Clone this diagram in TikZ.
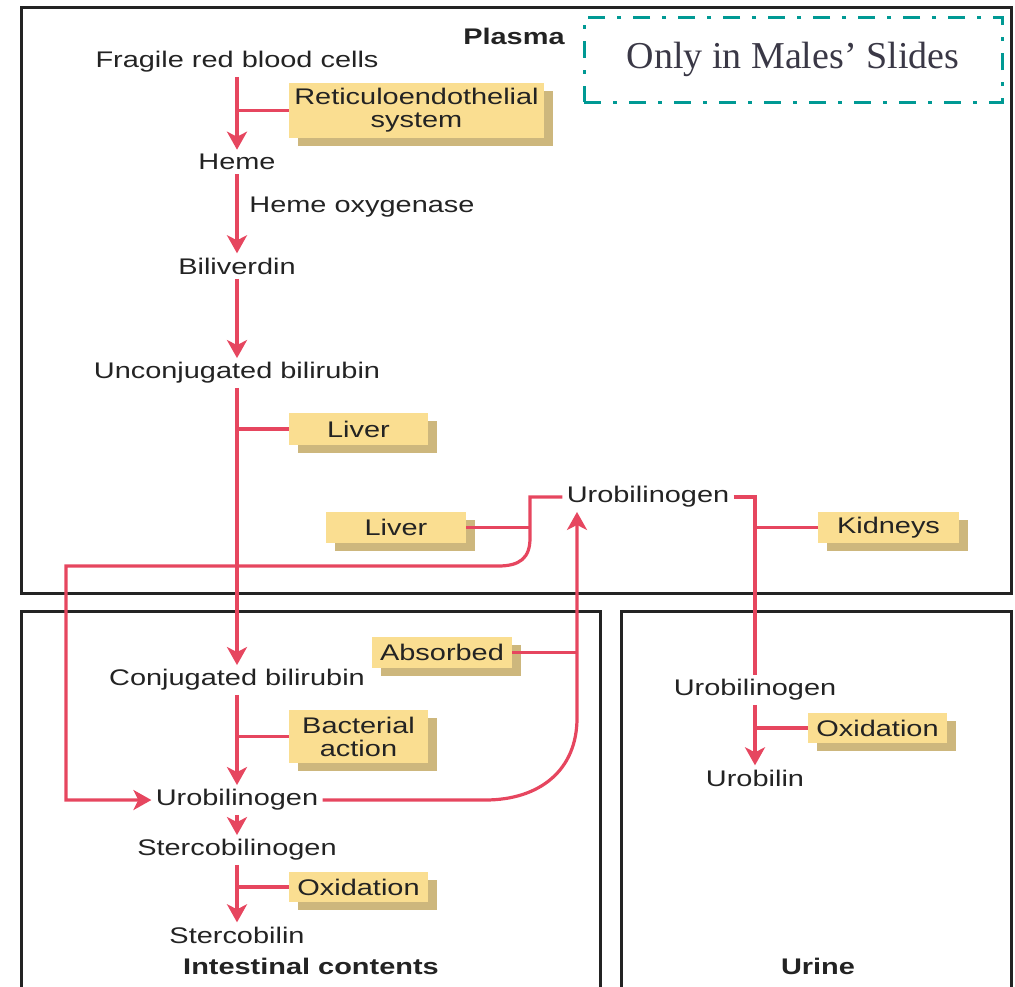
\documentclass[tikz,border=0pt]{standalone}
\usepackage{fontspec}
\setmainfont{Liberation Sans}[FakeStretch=1.28]
\newfontfamily\slidefont{Liberation Serif}
\usetikzlibrary{arrows.meta,shadows}
\definecolor{flowc}{RGB}{230,70,95}
\definecolor{boxfill}{RGB}{250,222,145}
\definecolor{shadowc}{RGB}{205,183,125}
\definecolor{txt}{RGB}{35,35,35}
\definecolor{zonec}{RGB}{35,35,35}
\definecolor{tealc}{RGB}{0,153,148}
\definecolor{notec}{RGB}{58,56,70}
\tikzset{
  stage/.style={inner sep=2pt, text=txt},
  title/.style={inner sep=2pt, text=txt, font=\fontsize{11.3}{12}\selectfont\bfseries},
  agent/.style={fill=boxfill, inner sep=0pt, text=txt, align=center,
    general shadow={fill=shadowc, shadow xshift=4.5pt, shadow yshift=-4pt}},
  flow/.style={draw=flowc, line width=1.6pt},
  arr/.style={flow, -{Stealth[length=9pt,width=10pt,inset=2.5pt]}},
  zone/.style={draw=zonec, line width=1.5pt},
}
\begin{document}
\begin{tikzpicture}[x=0.5pt,y=-0.5pt,font=\fontsize{11.3}{11.5}\selectfont]
\useasboundingbox (0,0) rectangle (1015,986);
% zones
\draw[zone] (21,7) rectangle (1011,593);
\draw[zone] (21,992) -- (21,611) -- (600,611) -- (600,992);
\draw[zone] (621,992) -- (621,611) -- (1011,611) -- (1011,992);

% note box
\node[draw=tealc, line width=1.5pt, dash pattern=on 8.5pt off 6pt on 2pt off 6pt,
  minimum width=209pt, minimum height=42.5pt, text=notec,
  font=\slidefont\fontsize{19}{20}\selectfont] (note) at (793,59.5) {Only in Males’ Slides};

% titles
\node[title, anchor=east] (plasma) at (569,36) {Plasma};
\node[title] (intes) at (311,966) {Intestinal contents};
\node[title] (urine) at (818,966) {Urine};

% stages
\node[stage] (frag) at (237,62) {Fragile red blood cells};
\node[stage] (heme) at (237,162) {Heme};
\node[stage] (bili) at (237,266) {Biliverdin};
\node[stage] (uncon) at (237,373) {Unconjugated bilirubin};
\node[stage] (conj) at (237,680) {Conjugated bilirubin};
\node[stage] (urobI) at (237,800) {Urobilinogen};
\node[stage] (sterg) at (237,850) {Stercobilinogen};
\node[stage] (sterc) at (237,935) {Stercobilin};
\node[stage] (urobP) at (648,497) {Urobilinogen};
\node[stage] (urobU) at (755,690) {Urobilinogen};
\node[stage] (urobil) at (755,778) {Urobilin};
\node[stage, anchor=west] (hox) at (245,207) {Heme oxygenase};

% agent boxes
\node[agent, minimum width=127.5pt, minimum height=27.5pt] (reti) at (416.5,110.5) {Reticuloendothelial\\system};
\node[agent, minimum width=69.5pt, minimum height=16pt] (liver1) at (358.5,429) {Liver};
\node[agent, minimum width=70pt, minimum height=15.5pt] (liver2) at (396,527.5) {Liver};
\node[agent, minimum width=70.5pt, minimum height=15.5pt] (kidneys) at (888.5,527.5) {Kidneys};
\node[agent, minimum width=70pt, minimum height=15.5pt] (absorbed) at (442,652.5) {Absorbed};
\node[agent, minimum width=69.5pt, minimum height=26.5pt] (bact) at (358.5,736.5) {Bacterial\\action};
\node[agent, minimum width=69.5pt, minimum height=15pt] (oxI) at (358.5,887) {Oxidation};
\node[agent, minimum width=69.5pt, minimum height=15pt] (oxU) at (877.5,728) {Oxidation};

% junction coordinates
\coordinate (ljunc) at (530,497);
\coordinate (absj) at (577,652.5);
\coordinate (kj) at (755,497);

% main chain
\draw[arr] (frag.south) -- (heme.north);
\draw[flow] (frag.south |- reti.west) -- (reti.west);
\draw[arr] (heme.south) -- (bili.north);
\draw[arr] (bili.south) -- (uncon.north);
\draw[arr] (uncon.south) -- (conj.north);
\draw[flow] (uncon.south |- liver1.west) -- (liver1.west);
\draw[arr] (conj.south) -- (urobI.north);
\draw[flow] (conj.south |- bact.west) -- (bact.west);
\draw[arr] (urobI.south) -- (sterg.north);
\draw[arr] (sterg.south) -- (sterc.north);
\draw[flow] (sterg.south |- oxI.west) -- (oxI.west);

% enterohepatic loop
\draw[arr] (urobP.west) -- (ljunc) -- (530,538) .. controls (530,558) and (520,566) .. (498,566)
  -- (66,566) -- (66,800) -- (urobI.west);
\draw[flow] (liver2.east) -- (liver2.east -| ljunc);

% absorption
\draw[arr] (urobI.east) -- (485,800) .. controls (540,800) and (577,770) .. (577,718)
  -- (absj |- urobP.south);
\draw[flow] (absorbed.east) -- (absj);

% kidneys / urine
\draw[flow] (urobP.east) -- (kj) -- (urobU.north);
\draw[flow] (kj |- kidneys.west) -- (kidneys.west);
\draw[arr] (urobU.south) -- (urobil.north);
\draw[flow] (urobU.south |- oxU.west) -- (oxU.west);
\end{tikzpicture}
\end{document}
